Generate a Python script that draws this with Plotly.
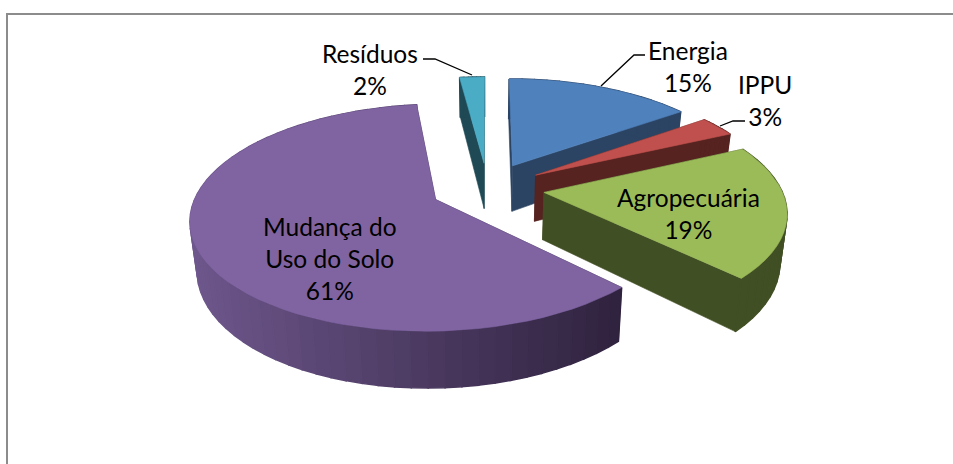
import math
import plotly.graph_objects as go

categories = ["Energia", "IPPU", "Agropecuária", "Mudança do Uso do Solo", "Resíduos"]
values = [15, 3, 19.45, 60.55, 2]
top_colors = ["#4F81BD", "#C0504D", "#9BBB59", "#8064A2", "#4BACC6"]
side_light = ["#2C4463", "#562320", "#414F24", "#6E578C", "#1F4955"]
side_dark = ["#2C4463", "#562320", "#414F24", "#30233F", "#1F4955"]
label_lines = [["Energia", "15%"], ["IPPU", "3%"], ["Agropecuária", "19%"],
               ["Mudança do", "Uso do Solo", "61%"], ["Resíduos", "2%"]]
label_pos = [(688, 66), (765, 100), (688, 213), (330, 258), (370, 69)]
leaders = [[(601, 86), (634, 55), (645, 55)],
           [(720, 126), (733, 121), (745, 121)],
           None, None,
           [(423, 59), (435, 59), (472, 75)]]
draw_order = [4, 0, 1, 2, 3]

CX, CY, A, B, D, K, EX, INSET = 487.5, 188, 237, 107, 47, 0.157, 0.24, 0.024
FONT = "Lato"
FS = 24.5


def project(x, y, z=0.0):
    s = 1 / (1 + K * y)
    return CX + A * x * s * (1 - INSET * z), CY - B * y * s + D * z * s


def mix(c1, c2, t):
    a = [int(c1[i:i + 2], 16) for i in (1, 3, 5)]
    b = [int(c2[i:i + 2], 16) for i in (1, 3, 5)]
    return "rgb(%d,%d,%d)" % tuple(round(a[i] + (b[i] - a[i]) * t) for i in range(3))


fig = go.Figure()


def poly(points, color, width=0.6):
    fig.add_trace(go.Scatter(
        x=[p[0] for p in points] + [points[0][0]],
        y=[p[1] for p in points] + [points[0][1]],
        mode="lines", fill="toself", fillcolor=color,
        line=dict(color=color, width=width),
        hoverinfo="skip", showlegend=False))


total = sum(values)
angles = [0.0]
for v in values:
    angles.append(angles[-1] + v / total * 2 * math.pi)

for i in draw_order:
    a0, a1 = angles[i], angles[i + 1]
    mid = (a0 + a1) / 2
    ox, oy = EX * math.sin(mid), EX * math.cos(mid)
    n = max(6, int((a1 - a0) / 0.06))
    arc = [a0 + (a1 - a0) * j / n for j in range(n + 1)]
    rim = [(ox + math.sin(t), oy + math.cos(t)) for t in arc]
    apex = (ox, oy)
    # radial walls
    for end in (rim[0], rim[-1]):
        poly([project(*apex), project(*end), project(*end, 1), project(*apex, 1)], side_dark[i])
    # outer wall, split in strips for the shading
    xs = [project(*p)[0] for p in rim]
    lo, hi = min(xs), max(xs)
    for j in range(n):
        t = (xs[j] - lo) / max(hi - lo, 1)
        poly([project(*rim[j]), project(*rim[j + 1]), project(*rim[j + 1], 1), project(*rim[j], 1)],
             mix(side_light[i], side_dark[i], t), width=1.5)
    # top face
    poly([project(*apex)] + [project(*p) for p in rim], top_colors[i])

for path in leaders:
    if path:
        fig.add_trace(go.Scatter(x=[p[0] for p in path], y=[p[1] for p in path], mode="lines",
                                 line=dict(color="#000000", width=1.3), hoverinfo="skip", showlegend=False))

# chart frame
fig.add_trace(go.Scatter(x=[7, 7, 953], y=[464, 14, 14], mode="lines",
                         line=dict(color="#8C8C8C", width=2), hoverinfo="skip", showlegend=False))

for lines, (lx, ly) in zip(label_lines, label_pos):
    fig.add_annotation(x=lx, y=ly, xref="x", yref="y", text="<br>".join(lines), showarrow=False,
                       font=dict(family=FONT, size=FS, color="#000000"), align="center", xanchor="center", yanchor="middle")

fig.update_layout(width=953, height=464, margin=dict(l=0, r=0, t=0, b=0),
                  paper_bgcolor="white", plot_bgcolor="white", showlegend=False,
                  xaxis=dict(range=[0, 953], visible=False, fixedrange=True),
                  yaxis=dict(range=[464, 0], visible=False, fixedrange=True))
fig.write_html("out.html", config={"displayModeBar": False},
               post_script="document.body.style.margin='0';document.body.style.overflow='hidden';")
